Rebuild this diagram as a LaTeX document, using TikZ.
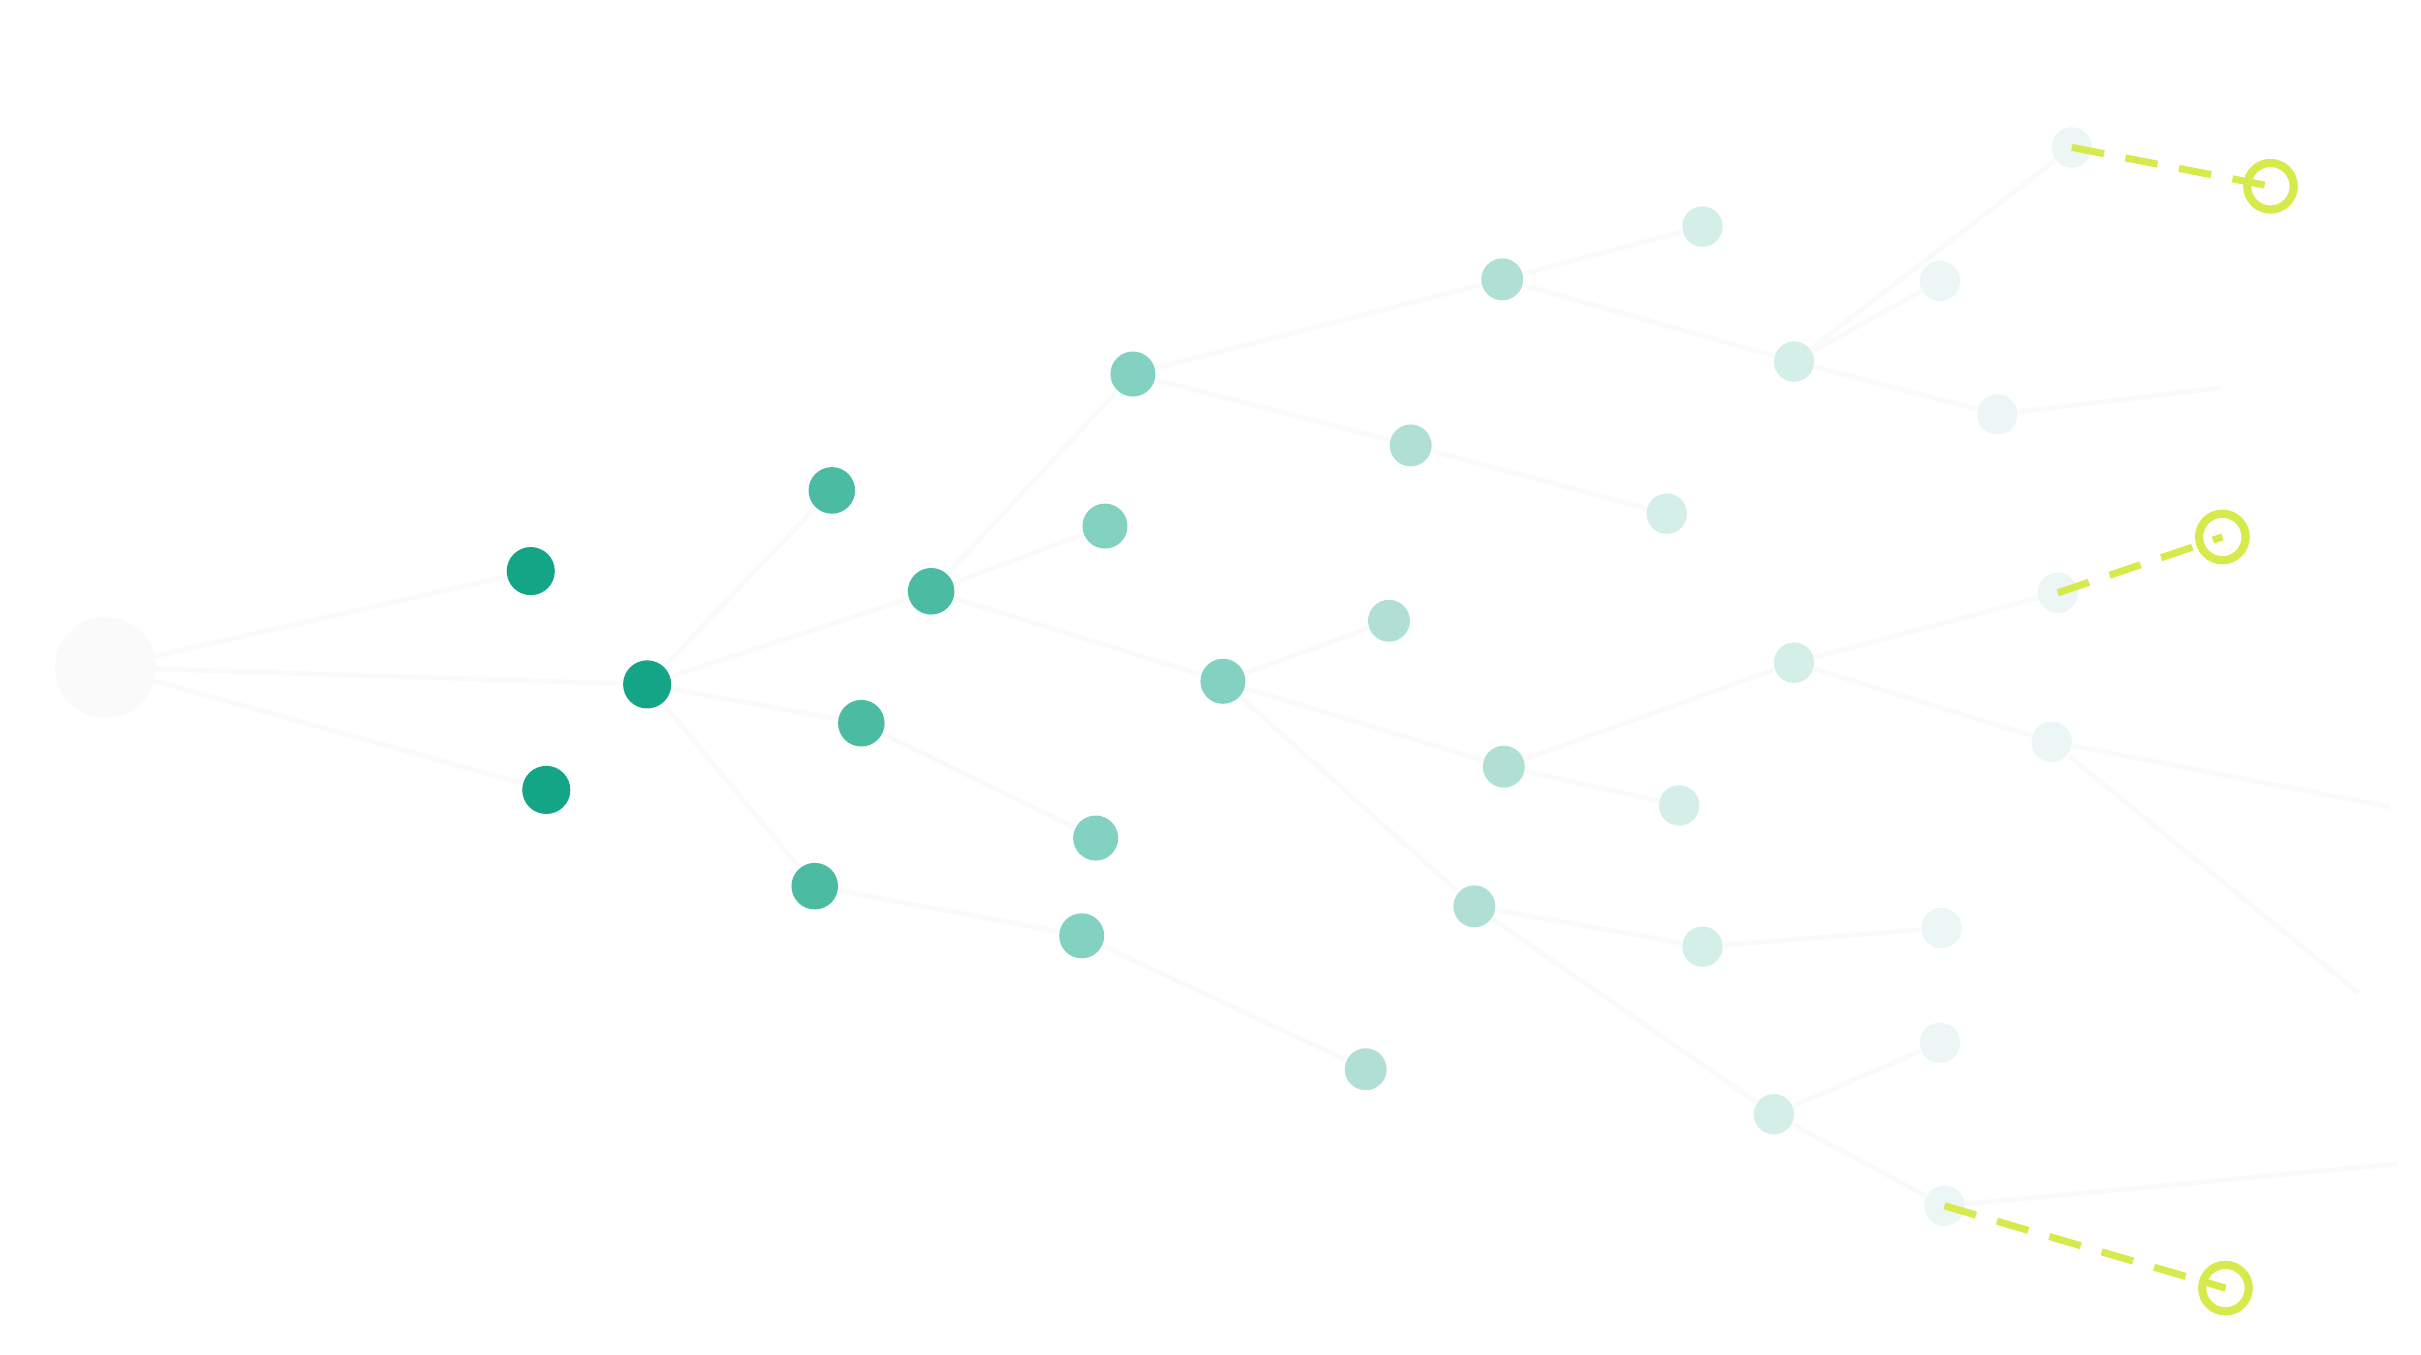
\documentclass[tikz,border=0pt]{standalone}
\usetikzlibrary{positioning}
\definecolor{lvla}{HTML}{13A585}
\definecolor{lvlb}{HTML}{4BBBA1}
\definecolor{lvlc}{HTML}{83D1C1}
\definecolor{lvld}{HTML}{B0E0D5}
\definecolor{lvle}{HTML}{D4EEE8}
\definecolor{lvlf}{HTML}{ECF6F4}
\definecolor{lime}{HTML}{D6EA4C}
\definecolor{edge}{HTML}{FAFAFB}
\tikzset{
  dot/.style={circle,inner sep=0pt,minimum size=#1},
  dot/.default=0.3cm,
  link/.style={draw=edge,line width=0.9pt},
  goal/.style={circle,draw=lime,line width=1.5pt,minimum size=0.3cm,inner sep=0pt},
  hint/.style={draw=lime,line width=1.3pt,dash pattern=on 6pt off 4pt}
}
\begin{document}
\begin{tikzpicture}[x=0.01cm,y=-0.01cm]
\useasboundingbox (0,0) rectangle (1560,873);
% start
\node[circle,draw=edge,fill=edge,line width=0.9pt,minimum size=0.62cm] (s) at (68,430) {};
\foreach \n/\x/\y/\c/\r in {
  a1/342/368/lvla/0.31cm, a2/417/441/lvla/0.31cm, a3/352/509/lvla/0.31cm,
  b1/536/316/lvlb/0.3cm, b2/600/381/lvlb/0.3cm, b3/555/466/lvlb/0.3cm, b4/525/571/lvlb/0.3cm,
  c1/730/241/lvlc/0.29cm, c2/712/339/lvlc/0.29cm, c3/788/439/lvlc/0.29cm, c4/706/540/lvlc/0.29cm, c5/697/603/lvlc/0.29cm,
  d1/968/180/lvld/0.27cm, d2/909/287/lvld/0.27cm, d3/895/400/lvld/0.27cm, d4/969/494/lvld/0.27cm, d5/950/584/lvld/0.27cm, d6/880/689/lvld/0.27cm,
  e1/1097/146/lvle/0.26cm, e2/1156/233/lvle/0.26cm, e3/1074/331/lvle/0.26cm, e4/1156/427/lvle/0.26cm, e5/1082/519/lvle/0.26cm, e6/1097/610/lvle/0.26cm, e7/1143/718/lvle/0.26cm,
  f1/1335/95/lvlf/0.26cm, f2/1250/181/lvlf/0.26cm, f3/1287/267/lvlf/0.26cm, f4/1326/382/lvlf/0.26cm, f5/1322/478/lvlf/0.26cm, f6/1251/598/lvlf/0.26cm, f7/1250/672/lvlf/0.26cm, f8/1253/777/lvlf/0.26cm}
  \node[dot=\r,fill=\c] (\n) at (\x,\y) {};
% edges
\foreach \u/\v in {s/a1,s/a2,s/a3,a2/b1,a2/b2,a2/b3,a2/b4,b2/c1,b2/c2,b2/c3,b3/c4,b4/c5,
  c1/d1,c1/d2,c3/d3,c3/d4,c3/d5,c5/d6,d1/e1,d1/e2,d2/e3,d4/e4,d4/e5,d5/e6,d5/e7,
  e2/f1,e2/f2,e2/f3,e4/f4,e4/f5,e6/f6,e7/f7,e7/f8}
  \draw[link] (\u) -- (\v);
% loose ends
\coordinate (o1) at (1430,250);
\coordinate (o2) at (1540,520);
\coordinate (o3) at (1520,640);
\coordinate (o4) at (1545,750);
\draw[link] (f3) -- (o1);
\draw[link] (f5) -- (o2);
\draw[link] (f5) -- (o3);
\draw[link] (f8) -- (o4);
% targets
\node[goal] (g1) at (1463,120) {};
\node[goal] (g2) at (1432,346) {};
\node[goal] (g3) at (1434,830) {};
\draw[hint] (f1.center) -- (g1.center);
\draw[hint] (f4.center) -- (g2.center);
\draw[hint] (f8.center) -- (g3.center);
\end{tikzpicture}
\end{document}
